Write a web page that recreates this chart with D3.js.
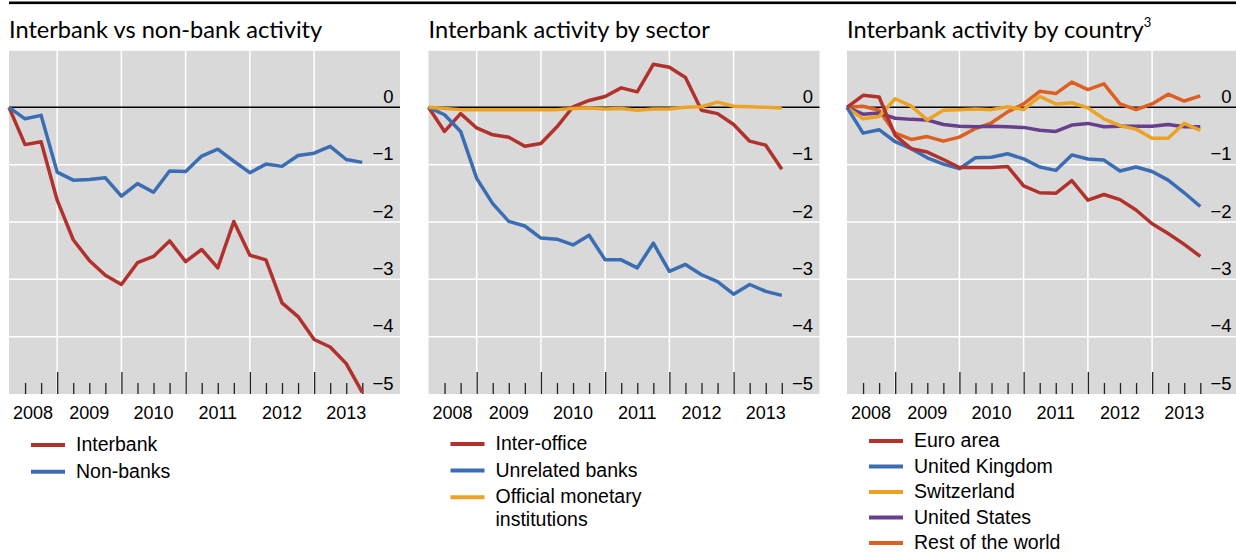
<!DOCTYPE html>
<html>
<head>
<meta charset="utf-8">
<script src="https://cdn.jsdelivr.net/npm/d3@7"></script>
<style>
    body { margin: 0; background: #fff; }
    svg { display: block; }
    text { font-family: "Liberation Sans", Arial, sans-serif; fill: #000; }
    .title { font-family: Lato, "Noto Sans", sans-serif; font-size: 23.6px; }
</style>
</head>
<body>
<svg id="chart" width="1236" height="554"></svg>
<script>
/*
    Three small-multiple line panels, quarterly data 2008Q1 - 2013Q3
 */

// quarters on the x axis
var quarters = ["2008Q1", "2008Q2", "2008Q3", "2008Q4",
    "2009Q1", "2009Q2", "2009Q3", "2009Q4",
    "2010Q1", "2010Q2", "2010Q3", "2010Q4",
    "2011Q1", "2011Q2", "2011Q3", "2011Q4",
    "2012Q1", "2012Q2", "2012Q3", "2012Q4",
    "2013Q1", "2013Q2", "2013Q3"];

var yearLabels = ["2008", "2009", "2010", "2011", "2012", "2013"];
var yTicks = [0, -1, -2, -3, -4, -5];

// panel 1: interbank vs non-bank
var interbank = [0, -0.65, -0.60, -1.62, -2.31, -2.67, -2.93, -3.09, -2.71, -2.60, -2.33, -2.69,
    -2.48, -2.80, -1.99, -2.58, -2.66, -3.41, -3.65, -4.05, -4.18, -4.47, -4.97];
var nonBanks = [0, -0.20, -0.14, -1.13, -1.27, -1.26, -1.23, -1.55, -1.33, -1.48, -1.11, -1.12,
    -0.85, -0.73, -0.94, -1.14, -0.99, -1.03, -0.84, -0.80, -0.68, -0.91, -0.96];

// panel 2: by sector
var interOffice = [0, -0.42, -0.11, -0.36, -0.48, -0.52, -0.68, -0.63, -0.34, 0.01, 0.12, 0.19,
    0.34, 0.27, 0.75, 0.70, 0.52, -0.05, -0.11, -0.30, -0.59, -0.66, -1.08];
var unrelatedBanks = [0, -0.13, -0.42, -1.24, -1.68, -1.99, -2.07, -2.28, -2.30, -2.40, -2.23, -2.66,
    -2.66, -2.80, -2.37, -2.86, -2.74, -2.92, -3.04, -3.26, -3.09, -3.21, -3.28];
var officialMonetary = [0, -0.02, -0.04, -0.04, -0.04, -0.04, -0.04, -0.04, -0.04, -0.02, -0.01, -0.03,
    -0.02, -0.05, -0.03, -0.03, 0.0, 0.01, 0.09, 0.02, 0.01, 0.0, -0.01];

// panel 3: by country
var euroArea = [0, 0.21, 0.18, -0.49, -0.72, -0.78, -0.91, -1.05, -1.05, -1.05, -1.03, -1.37,
    -1.49, -1.50, -1.28, -1.62, -1.52, -1.61, -1.79, -2.03, -2.20, -2.39, -2.60];
var unitedKingdom = [0, -0.45, -0.39, -0.60, -0.72, -0.88, -0.99, -1.07, -0.88, -0.87, -0.81, -0.90,
    -1.04, -1.10, -0.83, -0.90, -0.92, -1.11, -1.04, -1.12, -1.27, -1.49, -1.73];
var switzerland = [0, -0.20, -0.16, 0.15, 0.02, -0.22, -0.05, -0.04, -0.03, -0.04, 0.01, -0.04,
    0.19, 0.06, 0.08, -0.01, -0.20, -0.32, -0.38, -0.54, -0.54, -0.28, -0.40];
var unitedStates = [0, -0.12, -0.10, -0.19, -0.21, -0.22, -0.30, -0.33, -0.34, -0.33, -0.34, -0.35,
    -0.40, -0.42, -0.31, -0.28, -0.34, -0.33, -0.33, -0.33, -0.30, -0.34, -0.34];
var restOfWorld = [0, 0.02, -0.05, -0.45, -0.56, -0.51, -0.59, -0.52, -0.37, -0.27, -0.08, 0.06,
    0.28, 0.24, 0.44, 0.31, 0.41, 0.06, -0.04, 0.06, 0.23, 0.11, 0.20];

var red = "#b1312d", blue = "#3a6db3", yellow = "#eca325", purple = "#673f8c", orange = "#de5f22";

var panels = [
    {
        title: "Interbank vs non-bank activity", sup: null, left: 9,
        legendTop: 445, legendStep: 26.7,
        series: [
            { name: ["Interbank"], values: interbank, color: red },
            { name: ["Non-banks"], values: nonBanks, color: blue }
        ],
        order: [0, 1]
    },
    {
        title: "Interbank activity by sector", sup: null, left: 428.5,
        legendTop: 444, legendStep: 26.6,
        series: [
            { name: ["Inter-office"], values: interOffice, color: red },
            { name: ["Unrelated banks"], values: unrelatedBanks, color: blue },
            { name: ["Official monetary", "institutions"], values: officialMonetary, color: yellow }
        ],
        order: [0, 1, 2]
    },
    {
        title: "Interbank activity by country", sup: "3", left: 847,
        legendTop: 441, legendStep: 25.5,
        series: [
            { name: ["Euro area"], values: euroArea, color: red },
            { name: ["United Kingdom"], values: unitedKingdom, color: blue },
            { name: ["Switzerland"], values: switzerland, color: yellow },
            { name: ["United States"], values: unitedStates, color: purple },
            { name: ["Rest of the world"], values: restOfWorld, color: orange }
        ],
        order: [4, 3, 2, 1, 0]
    }
];

var svg = d3.select("#chart");

var plotTop = 50, plotBottom = 394, plotWidth = 391;

// quarter string -> decimal year at end of quarter
function qTime(q) {
    return +q.slice(0, 4) + (+q.slice(5)) / 4;
}

var x = d3.scaleLinear()
    .domain([2008.25, 2014.337])
    .range([0, plotWidth]);

var y = d3.scaleLinear()
    .domain([-5, 1])
    .range([plotBottom, plotTop]);

var fmt = d3.format("d");

// thick rule at the very top
svg.append("rect")
    .attr("x", 9).attr("y", 1.5)
    .attr("width", 1236 - 9).attr("height", 2.6)
    .style("fill", "#000");

panels.forEach(function (p) {
    var g = svg.append("g").attr("transform", "translate(" + p.left + ",0)");

    // title
    var t = g.append("text").attr("class", "title")
        .attr("x", 0).attr("y", 38)
        .text(p.title);
    if (p.sup) {
        t.append("tspan").attr("dy", -11).style("font-size", "13px").text(p.sup);
    }

    // background
    g.append("rect")
        .attr("x", 0).attr("y", plotTop)
        .attr("width", plotWidth).attr("height", plotBottom - plotTop)
        .style("fill", "#d9d9d9");

    var yearBounds = [2009, 2010, 2011, 2012, 2013];

    // vertical grid
    g.append("g").selectAll("line")
        .data(yearBounds).enter().append("line")
        .attr("x1", d => x(d)).attr("x2", d => x(d))
        .attr("y1", plotTop).attr("y2", plotBottom)
        .style("stroke", "#fff").style("stroke-width", 1.5);

    // horizontal grid
    g.append("g").selectAll("line")
        .data([1, -1, -2, -3, -4]).enter().append("line")
        .attr("x1", 0).attr("x2", plotWidth)
        .attr("y1", d => y(d)).attr("y2", d => y(d))
        .style("stroke", "#fff").style("stroke-width", 1.5);

    // zero line
    g.append("line")
        .attr("x1", 0).attr("x2", plotWidth)
        .attr("y1", y(0)).attr("y2", y(0))
        .style("stroke", "#000").style("stroke-width", 1.5);

    // quarter ticks (minor) and year ticks (major), pointing up from the bottom
    var minor = quarters.map(qTime).filter(function (d) { return d % 1 !== 0 && x(d) > 1; });
    var minorAxis = d3.axisTop(x).tickValues(minor).tickSize(11).tickFormat("");
    var majorAxis = d3.axisTop(x).tickValues(yearBounds).tickSize(22).tickFormat("");

    [minorAxis, majorAxis].forEach(function (ax) {
        var a = g.append("g").attr("transform", "translate(0," + plotBottom + ")").call(ax);
        a.select(".domain").remove();
        a.selectAll(".tick line").style("stroke", "#222").style("stroke-width", 1.3);
    });

    // year labels, centred in the visible part of each year
    g.append("g").selectAll("text")
        .data(yearLabels).enter().append("text")
        .attr("x", function (d) {
            var a = Math.max(x(+d), 0), b = Math.min(x(+d + 1), plotWidth);
            return (a + b) / 2;
        })
        .attr("y", 419)
        .attr("text-anchor", "middle")
        .style("font-size", "18px")
        .text(d => d);

    // value labels on the right, inside the plot
    g.append("g").selectAll("text")
        .data(yTicks).enter().append("text")
        .attr("x", 384.5)
        .attr("y", d => y(d) - 4.5)
        .attr("text-anchor", "end")
        .style("font-size", "18.5px")
        .text(d => fmt(d));

    // lines
    var line = d3.line()
        .x(function (d, i) { return x(qTime(quarters[i])); })
        .y(function (d) { return y(d); });

    p.order.forEach(function (k) {
        var s = p.series[k];
        g.append("path")
            .datum(s.values)
            .attr("d", line)
            .style("fill", "none")
            .style("stroke", s.color)
            .style("stroke-width", 3.5)
            .style("stroke-linejoin", "round");
    });

    // legend
    var ly = p.legendTop;
    p.series.forEach(function (s) {
        g.append("line")
            .attr("x1", 22).attr("x2", 56)
            .attr("y1", ly).attr("y2", ly)
            .style("stroke", s.color).style("stroke-width", 4);
        var txt = g.append("text")
            .attr("x", 67).attr("y", ly + 6)
            .style("font-size", "19.5px");
        s.name.forEach(function (n, j) {
            txt.append("tspan").attr("x", 67).attr("dy", j === 0 ? 0 : 23).text(n);
        });
        ly += p.legendStep * s.name.length;
    });
});
</script>
</body>
</html>
